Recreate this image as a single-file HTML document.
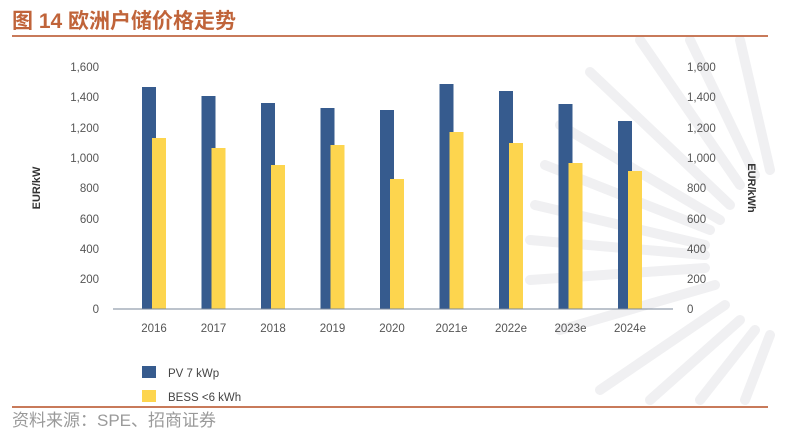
<!DOCTYPE html>
<html><head><meta charset="utf-8"><style>
html,body{margin:0;padding:0;background:#fff;}
svg{display:block;}
text{font-family:"Liberation Sans","Noto Sans CJK SC",sans-serif;}
</style></head><body>
<svg width="800" height="437" viewBox="0 0 800 437" xmlns="http://www.w3.org/2000/svg">
<rect width="800" height="437" fill="#fff"/>
<g stroke="#f0f0f2" stroke-width="10" stroke-linecap="round" fill="none">
<line x1="590" y1="72" x2="730" y2="205"/>
<line x1="640" y1="40" x2="740" y2="185"/>
<line x1="690" y1="40" x2="755" y2="175"/>
<line x1="740" y1="40" x2="770" y2="170"/>
<line x1="560" y1="125" x2="720" y2="220"/>
<line x1="545" y1="165" x2="710" y2="230"/>
<line x1="535" y1="205" x2="705" y2="245"/>
<line x1="530" y1="240" x2="705" y2="255"/>
<line x1="530" y1="280" x2="705" y2="268"/>
<line x1="560" y1="330" x2="715" y2="285"/>
<line x1="600" y1="390" x2="725" y2="305"/>
<line x1="650" y1="400" x2="740" y2="320"/>
<line x1="700" y1="400" x2="755" y2="330"/>
<line x1="745" y1="400" x2="770" y2="335"/>
</g>
<text x="12" y="28" font-size="21" font-weight="bold" fill="#c0643a">图 14  欧洲户储价格走势</text>
<line x1="12" y1="36" x2="768" y2="36" stroke="#c87a5a" stroke-width="2"/>
<line x1="12" y1="407" x2="768" y2="407" stroke="#c87a5a" stroke-width="2"/>
<text x="12" y="426" font-size="17" fill="#9a9a9a">资料来源：SPE、招商证券</text>
<g font-size="11.5" fill="#555" text-anchor="end">
<text x="99" y="71">1,600</text><text x="99" y="101">1,400</text><text x="99" y="132">1,200</text>
<text x="99" y="162">1,000</text><text x="99" y="192">800</text><text x="99" y="223">600</text>
<text x="99" y="253">400</text><text x="99" y="283">200</text><text x="99" y="313">0</text>
</g>
<g font-size="11.5" fill="#555">
<text x="687" y="71">1,600</text><text x="687" y="101">1,400</text><text x="687" y="132">1,200</text>
<text x="687" y="162">1,000</text><text x="687" y="192">800</text><text x="687" y="223">600</text>
<text x="687" y="253">400</text><text x="687" y="283">200</text><text x="687" y="313">0</text>
</g>
<text transform="translate(40,188) rotate(-90)" font-size="11" font-weight="bold" fill="#333" text-anchor="middle">EUR/kW</text>
<text transform="translate(748,188) rotate(90)" font-size="11" font-weight="bold" fill="#333" text-anchor="middle">EUR/kWh</text>
<g>
<rect x="142" y="87" width="14" height="222" fill="#365b8e"/><rect x="152" y="138" width="14" height="171" fill="#fdd54e"/>
<rect x="201.5" y="96" width="14" height="213" fill="#365b8e"/><rect x="211.5" y="148" width="14" height="161" fill="#fdd54e"/>
<rect x="261" y="103" width="14" height="206" fill="#365b8e"/><rect x="271" y="165" width="14" height="144" fill="#fdd54e"/>
<rect x="320.5" y="108" width="14" height="201" fill="#365b8e"/><rect x="330.5" y="145" width="14" height="164" fill="#fdd54e"/>
<rect x="380" y="110" width="14" height="199" fill="#365b8e"/><rect x="390" y="179" width="14" height="130" fill="#fdd54e"/>
<rect x="439.5" y="84" width="14" height="225" fill="#365b8e"/><rect x="449.5" y="132" width="14" height="177" fill="#fdd54e"/>
<rect x="499" y="91" width="14" height="218" fill="#365b8e"/><rect x="509" y="143" width="14" height="166" fill="#fdd54e"/>
<rect x="558.5" y="104" width="14" height="205" fill="#365b8e"/><rect x="568.5" y="163" width="14" height="146" fill="#fdd54e"/>
<rect x="618" y="121" width="14" height="188" fill="#365b8e"/><rect x="628" y="171" width="14" height="138" fill="#fdd54e"/>
</g>
<line x1="113" y1="309" x2="673" y2="309" stroke="#7a879a" stroke-width="1"/>
<g font-size="11.5" fill="#555" text-anchor="middle">
<text x="154" y="332">2016</text><text x="213.5" y="332">2017</text><text x="273" y="332">2018</text>
<text x="332.5" y="332">2019</text><text x="392" y="332">2020</text><text x="451.5" y="332">2021e</text>
<text x="511" y="332">2022e</text><text x="570.5" y="332">2023e</text><text x="630" y="332">2024e</text>
</g>
<rect x="142" y="366" width="14" height="12" fill="#365b8e"/>
<text x="168" y="377" font-size="11.5" fill="#444">PV 7 kWp</text>
<rect x="142" y="390" width="14" height="12" fill="#fdd54e"/>
<text x="168" y="401" font-size="11.5" fill="#444">BESS &lt;6 kWh</text>
</svg>
</body></html>
